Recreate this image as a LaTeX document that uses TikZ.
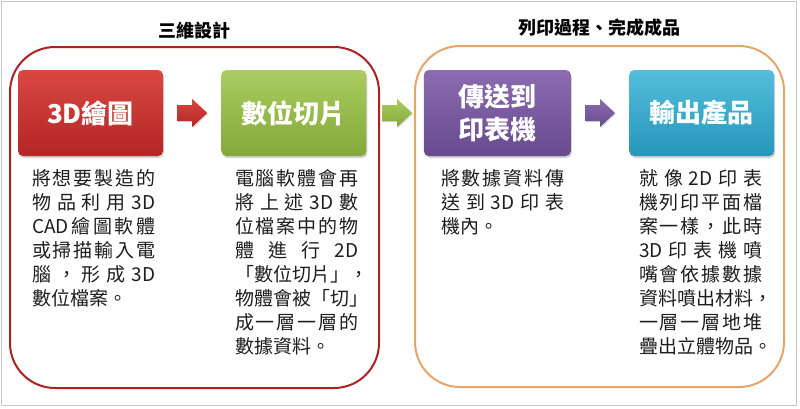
\documentclass[tikz,border=0pt]{standalone}
\usepackage{fontspec}
\usepackage{tikz}
\usetikzlibrary{positioning,calc,shadows}

\newfontfamily\cjk{Noto Sans CJK TC}

\definecolor{redtop}{RGB}{218,72,66}
\definecolor{redbot}{RGB}{178,38,36}
\definecolor{greentop}{RGB}{170,204,96}
\definecolor{greenbot}{RGB}{132,168,58}
\definecolor{purpletop}{RGB}{140,108,176}
\definecolor{purplebot}{RGB}{104,74,142}
\definecolor{cyantop}{RGB}{84,190,220}
\definecolor{cyanbot}{RGB}{38,150,186}
\definecolor{framered}{RGB}{172,34,34}
\definecolor{frameorange}{RGB}{228,166,106}
\definecolor{bodytext}{RGB}{30,30,30}

% one line of a description, spread over the full width
\newlength\descw
\setlength\descw{123pt}
\makeatletter
\def\spr@loop#1{\ifx\relax#1\unskip\else#1\hfill\expandafter\spr@loop\fi}
\newcommand\jl[1]{\makebox[\descw][l]{\spr@loop#1\relax}}
\makeatother

% block arrow around a named coordinate
\newcommand\blockarrow[2]{%
	\shade[#2, shift={(#1)}, drop shadow={shadow xshift=1pt,shadow yshift=-1pt,opacity=0.3}]
		(-15,-8) -- (0,-8) -- (0,-14) -- (15,0) -- (0,14) -- (0,8) -- (-15,8) -- cycle;}

\begin{document}
\begin{tikzpicture}[x=1pt,y=-1pt,node distance = 58pt]
		\tikzstyle{step_box}=[rounded corners=5pt, minimum width=145pt, minimum height=86pt, inner sep=0pt,
			text=white, align=center, font=\cjk\bfseries\fontsize{26}{33}\selectfont,
			drop shadow={shadow xshift=1pt,shadow yshift=-2pt,opacity=0.35}];
		\tikzstyle{desc_text}=[anchor=north west, inner sep=0pt, align=left, text=bodytext,
			font=\cjk\fontsize{19}{24}\selectfont];
		\tikzstyle{group_frame}=[rounded corners=45pt, line width=2pt, minimum width=369pt, minimum height=341pt];
		\tikzstyle{group_title}=[font=\cjk\bfseries\fontsize{18}{20}\selectfont, text=black];

		\useasboundingbox (0,0) rectangle (800,408);
		\fill[white] (0,0) rectangle (800,408);
		\draw[black!22] (1.5,1.5) rectangle (796,405);

		% the two groups
		\node[group_frame, draw=framered] (design) at (194.5,217.5) {};
		\node[group_frame, draw=frameorange] (printing) at (599.5,216.5) {};
		\node[group_title, above = 3pt of design] {三維設計};
		\node[group_title, above = 5pt of printing] {列印過程、完成成品};

		% the four steps
		\node[step_box, top color=redtop, bottom color=redbot] (s_draw) at (90.5,113) {3D繪圖};
		\node[step_box, top color=greentop, bottom color=greenbot, right = of s_draw] (s_slice) {數位切片};
		\node[step_box, top color=purpletop, bottom color=purplebot, minimum width=147pt, right = 57pt of s_slice] (s_send) {傳送到\\印表機};
		\node[step_box, top color=cyantop, bottom color=cyanbot, right = of s_send] (s_out) {輸出產品};

		\coordinate (a_1) at ($(s_draw.east)!0.5!(s_slice.west)$);
		\coordinate (a_2) at ($(s_slice.east)!0.5!(s_send.west)+(2,0)$);
		\coordinate (a_3) at ($(s_send.east)!0.5!(s_out.west)$);
		\blockarrow{a_1}{top color=redtop, bottom color=redbot}
		\blockarrow{a_2}{top color=greentop, bottom color=greenbot}
		\blockarrow{a_3}{top color=purpletop, bottom color=purplebot}

		% descriptions
		\node[desc_text] (d_draw) at (32,169) {\jl{將想要製造的}\\\jl{物品利用{3D}}\\\jl{{CAD}繪圖軟體}\\\jl{或掃描輸入電}\\\jl{腦，形成{3D}}\\數位檔案。};
		\node[desc_text] (d_slice) at (235,169) {\jl{電腦軟體會再}\\\jl{將上述{3D}數}\\\jl{位檔案中的物}\\\jl{體進行{2D}}\\「數位切片」，\\物體會被「切」\\\jl{成一層一層的}\\數據資料。};
		\node[desc_text] (d_send) at (441,169) {\jl{將數據資料傳}\\\jl{送到{3D}印表}\\機內。};
		\node[desc_text] (d_out) at (639,169) {\jl{就像{2D}印表}\\\jl{機列印平面檔}\\\jl{案一樣，此時}\\\jl{{3D}印表機噴}\\\jl{嘴會依據數據}\\資料噴出材料，\\\jl{一層一層地堆}\\疊出立體物品。};

	\end{tikzpicture}
\end{document}
